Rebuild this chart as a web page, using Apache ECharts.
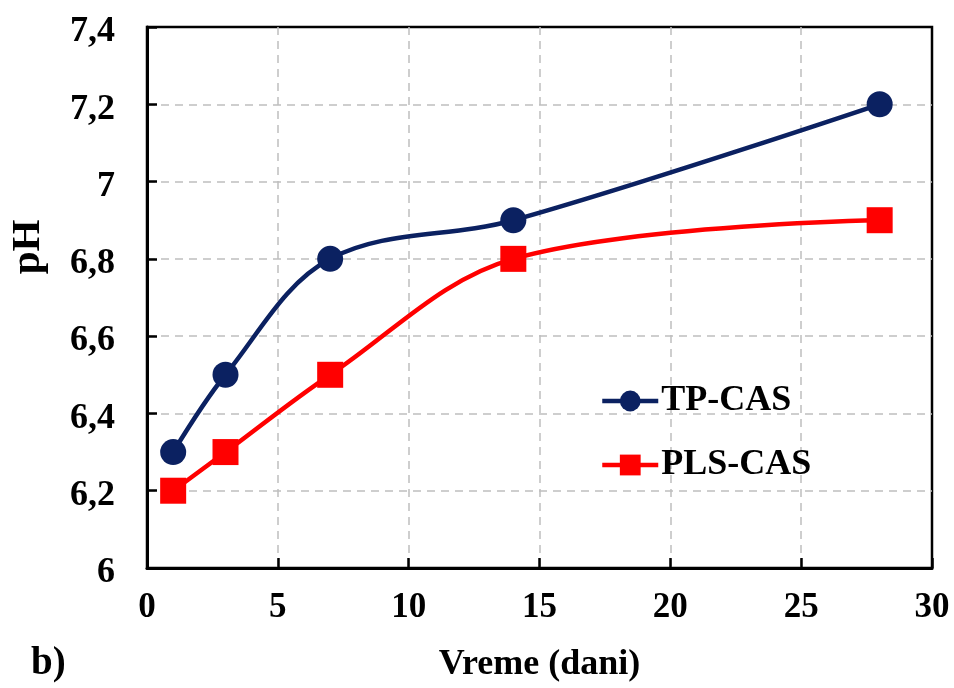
<!DOCTYPE html>
<html>
<head>
<meta charset="utf-8">
<script src="https://cdn.jsdelivr.net/npm/echarts@6/dist/echarts.min.js"></script>
<style>
  html, body { margin: 0; padding: 0; background: #fff; }
  #main { width: 954px; height: 688px; }
</style>
</head>
<body>
<div id="main"></div>
<script>
// dani (x) i pH vrijednosti
const days = [1, 3, 7, 14, 28];
const tpCas = [6.3, 6.5, 6.8, 6.9, 7.2];
const plsCas = [6.2, 6.3, 6.5, 6.8, 6.9];
const seriesNames = ['TP-CAS', 'PLS-CAS'];

const font = '"Liberation Serif", "Times New Roman", serif';
const navy = '#0b2161';
const red = '#ff0000';

function pairs(xs, ys) {
  return xs.map((x, i) => [x, ys[i]]);
}

let chart = echarts.init(document.getElementById('main'));

let option = {
  animation: false,
  backgroundColor: '#fff',
  textStyle: { fontFamily: font },
  grid: {
    left: 147,
    top: 27,
    right: 22,
    bottom: 116,
    show: true,
    borderColor: '#000',
    borderWidth: 2.5,
    containLabel: false
  },
  graphic: [
    {
      type: 'text',
      left: 31,
      top: 644,
      style: { text: 'b)', font: 'bold 39px ' + font, fill: '#000' }
    },
    {
      // naslov y ose, nije centriran na osu u originalu
      type: 'text',
      x: 28,
      y: 247,
      rotation: Math.PI / 2,
      style: { text: 'pH', font: 'bold 41px ' + font, fill: '#000', align: 'center', verticalAlign: 'middle' }
    }
  ],
  legend: {
    orient: 'vertical',
    left: 595,
    top: 378,
    itemWidth: 56,
    itemHeight: 26,
    itemGap: 28,
    data: seriesNames,
    lineStyle: { width: 4.5 },
    textStyle: { fontFamily: font, fontSize: 36, fontWeight: 'bold', color: '#000', padding: [0, 0, 0, -2] }
  },
  xAxis: {
    type: 'value',
    min: 0,
    max: 30,
    interval: 5,
    name: 'Vreme (dani)',
    nameLocation: 'middle',
    nameGap: 79,
    nameTextStyle: { fontFamily: font, fontSize: 36, fontWeight: 'bold', color: '#000' },
    axisLine: { show: true, lineStyle: { color: '#000', width: 3 } },
    axisTick: { show: true, inside: true, length: 10, lineStyle: { color: '#000', width: 2.5 } },
    axisLabel: { fontFamily: font, fontSize: 35, fontWeight: 'bold', color: '#000', margin: 22 },
    splitLine: { show: true, showMinLine: false, showMaxLine: false, lineStyle: { color: '#bfbfbf', type: [8, 6], width: 1.5 } }
  },
  yAxis: {
    type: 'value',
    min: 6,
    max: 7.4,
    interval: 0.2,
    axisLine: { show: true, lineStyle: { color: '#000', width: 3 } },
    axisTick: { show: true, inside: true, length: 10, lineStyle: { color: '#000', width: 2.5 } },
    axisLabel: {
      color: '#000', margin: 32,
      formatter: v => '{v|' + String(Math.round(v * 10) / 10).replace('.', ',') + '}',
      rich: {
        v: { fontFamily: font, fontSize: 36, fontWeight: 'bold', color: '#000', padding: [10, 0, 0, 0] }
      }
    },
    splitLine: { show: true, showMinLine: false, showMaxLine: false, lineStyle: { color: '#bfbfbf', type: [8, 6], width: 1.5 } }
  },
  series: [
    {
      name: seriesNames[0],
      type: 'line',
      data: pairs(days, tpCas),
      smooth: 0.35,
      symbol: 'circle',
      symbolSize: 26,
      lineStyle: { color: navy, width: 4.5 },
      itemStyle: { color: navy },
      z: 3
    },
    {
      name: seriesNames[1],
      type: 'line',
      data: pairs(days, plsCas),
      smooth: 0.35,
      symbol: 'rect',
      symbolSize: 26,
      lineStyle: { color: red, width: 4.5 },
      itemStyle: { color: red },
      z: 3
    }
  ]
};

chart.setOption(option);
</script>
</body>
</html>
